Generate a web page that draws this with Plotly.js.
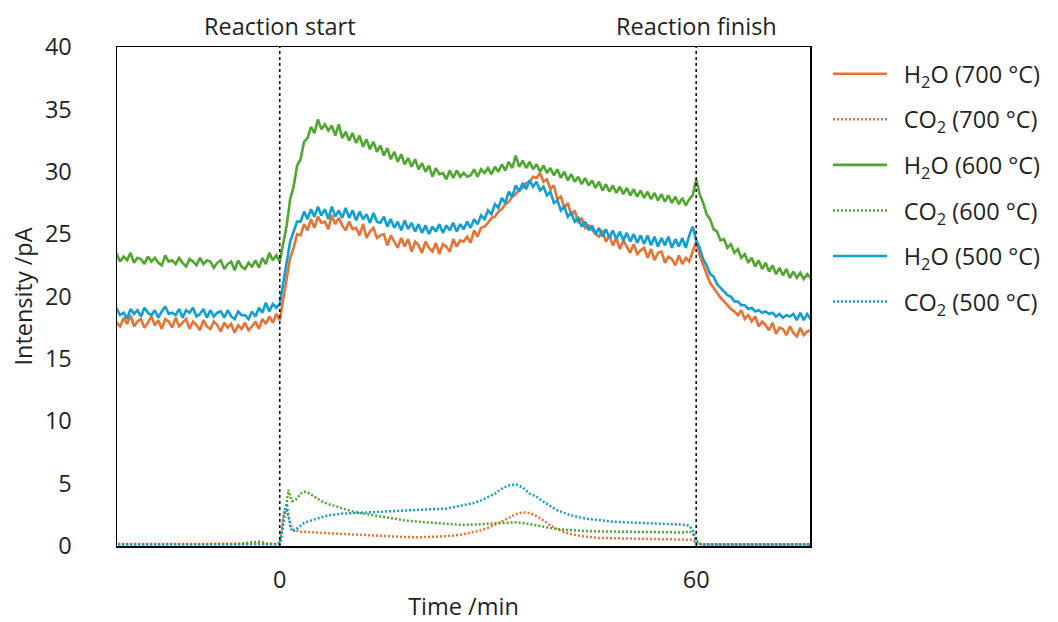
<!DOCTYPE html>
<html>
<head>
<meta charset="utf-8">
<script src="https://cdn.plot.ly/plotly-3.0.1.min.js"></script>
<style>
  html, body { margin: 0; padding: 0; background: #fff; }
  #chart { width: 1058px; height: 622px; }
</style>
</head>
<body>
<div id="chart"></div>
<script>
// H2O signals, sampled every 0.5 min starting at -25 min (one row = 5 min)
const H2O_START = -25;
const H2O_STEP = 0.5;

const h2o700 = [
  18.0,17.5,18.4,17.9,17.6,18.3,17.8,18.5,17.6,18.0,
  18.2,17.5,17.9,18.4,17.7,18.1,17.4,18.2,18.0,17.5,
  18.3,17.6,17.9,18.2,17.4,18.0,17.7,17.3,18.1,17.6,
  17.4,18.0,17.7,17.2,17.9,17.5,17.8,17.1,17.7,17.4,
  17.9,17.3,17.6,18.0,17.4,18.2,17.8,18.4,17.9,18.6,
  18.1,19.7,21.3,23.1,23.9,25.0,24.9,25.8,25.3,26.2,
  25.5,26.4,25.9,26.0,25.4,26.5,25.8,26.3,25.7,25.3,
  26.0,25.4,25.5,24.9,25.8,24.7,25.2,25.5,24.7,24.9,
  25.0,24.1,24.9,24.4,23.9,24.7,24.0,24.6,23.6,24.4,
  24.1,23.5,24.4,23.9,23.6,24.3,23.4,24.2,24.0,23.6,
  24.6,24.0,24.5,24.4,24.8,24.3,25.3,24.8,25.5,25.6,
  25.9,26.3,26.4,26.8,27.0,27.4,27.6,28.0,28.2,28.6,
  28.7,29.1,29.2,29.6,29.5,29.9,29.2,29.4,28.6,28.9,
  27.8,28.0,27.1,27.5,26.5,26.9,25.9,26.3,25.5,25.7,
  25.3,25.0,24.8,25.3,24.4,24.9,24.1,24.7,23.8,24.5,
  24.0,23.5,24.2,23.4,23.7,23.9,23.1,23.8,22.9,23.5,
  23.6,22.7,23.2,23.0,22.5,23.3,22.6,23.1,22.8,23.7,
  24.4,23.3,22.5,21.8,21.1,20.7,20.2,19.9,19.6,19.3,
  19.0,18.8,18.5,18.9,18.2,18.5,18.0,18.4,17.6,18.0,
  17.7,17.3,17.9,17.0,17.5,17.4,16.9,17.6,17.1,16.8,
  17.5,16.9,17.2,17.3,16.9
];

const h2o600 = [
  23.6,22.9,23.3,23.4,22.8,23.2,22.9,23.5,22.7,23.1,
  23.0,22.6,23.2,22.8,23.1,22.7,22.5,23.3,22.8,22.9,
  22.6,23.1,22.7,22.4,23.0,22.8,22.5,23.1,22.6,22.9,
  22.8,22.3,22.7,22.9,22.2,22.6,22.8,22.1,22.9,22.4,
  22.2,22.7,22.4,22.9,22.3,23.1,22.6,23.5,22.9,23.3,
  22.8,24.3,25.7,27.8,28.8,30.5,31.0,32.4,32.7,33.6,
  33.1,34.2,33.4,33.8,33.3,33.7,32.9,33.8,32.7,33.2,
  32.5,33.1,32.3,32.9,32.0,32.6,31.8,32.4,31.6,32.1,
  31.3,31.9,31.0,31.6,30.8,31.4,30.6,31.1,30.4,31.0,
  30.2,30.7,30.0,30.5,29.6,30.3,29.8,29.9,29.4,30.1,
  29.5,30.1,29.6,29.9,29.6,29.7,30.2,29.6,30.2,29.9,
  30.3,29.8,30.4,30.0,30.6,30.1,30.8,30.3,31.3,30.4,
  30.9,30.3,30.8,30.2,30.6,30.0,30.5,29.9,30.3,29.7,
  30.2,29.5,30.0,29.3,29.8,29.2,29.6,29.0,29.5,28.9,
  29.3,28.7,29.2,28.5,29.0,28.4,28.9,28.3,28.8,28.2,
  28.7,28.1,28.6,28.0,28.5,27.9,28.4,27.8,28.3,27.7,
  28.2,27.6,28.1,27.5,28.0,27.4,27.9,27.3,27.8,28.1,
  29.4,28.2,27.5,26.6,26.2,25.4,25.2,24.5,24.6,23.9,
  24.2,23.5,23.8,23.1,23.4,22.7,23.1,22.4,22.9,22.2,
  22.7,22.0,22.5,21.8,22.3,21.7,22.2,21.5,22.0,21.5,
  21.9,21.4,21.8,21.5,21.7
];

const h2o500 = [
  18.9,18.3,18.8,19.0,18.5,18.7,18.2,19.0,18.6,18.9,
  18.4,19.1,18.7,18.5,18.9,18.3,18.8,19.2,18.6,18.7,
  18.5,19.0,18.3,18.9,18.7,19.1,18.4,18.6,19.0,18.3,
  18.9,18.4,18.7,18.8,18.3,18.9,18.4,18.2,18.8,18.5,
  18.5,18.2,18.8,18.4,19.1,18.7,19.5,18.8,19.4,19.1,
  19.4,21.1,22.8,24.4,25.2,26.0,26.0,26.8,26.2,27.0,
  26.4,27.2,26.5,27.0,26.2,27.2,26.4,26.9,26.3,27.1,
  26.3,26.9,26.1,26.8,26.2,26.6,25.9,26.7,26.0,25.9,
  26.4,25.6,26.2,25.5,26.0,25.3,26.1,25.4,25.9,25.2,
  25.8,25.1,25.7,25.0,25.6,25.2,25.8,25.1,25.7,25.3,
  25.9,25.2,25.8,25.4,26.0,25.5,26.2,25.8,26.5,26.2,
  26.9,26.6,27.4,27.1,27.9,27.5,28.4,28.0,28.9,28.4,
  29.1,28.6,29.3,28.8,29.2,28.5,28.8,28.1,28.4,27.5,
  27.7,26.9,27.2,26.4,26.7,26.0,26.3,25.6,26.0,25.3,
  25.7,25.0,25.5,24.8,25.4,24.7,25.3,24.6,25.2,24.5,
  25.1,24.4,25.0,24.3,24.9,24.2,24.9,24.1,24.8,24.0,
  24.7,24.1,24.8,23.9,24.6,24.0,24.7,23.9,24.9,25.6,
  24.5,23.9,23.0,22.5,21.8,21.6,21.0,20.7,20.4,20.1,
  20.0,19.6,19.6,19.3,19.3,19.0,19.1,18.8,18.9,18.7,
  18.8,18.6,18.7,18.4,18.6,18.3,18.5,18.4,18.6,18.1,
  18.7,18.1,18.6,18.2,18.5
];

// CO2 signals on their own (uneven) time base, min
const co2Time = [
  -25,-20,-15,-10,-6,
  -4,-3.5,-3,-2.5,-2,
  -1,-0.5,0,0.25,0.5,
  0.75,1,1.25,1.5,1.75,
  2,2.5,3,3.5,4,
  4.5,5,6,7,8,
  9,10,11,12,14,
  16,18,20,22,24,
  26,28,29,30,31,
  32,33,34,35,36,
  37,38,39,40,41,
  42,44,46,48,50,
  52,54,56,58,58.5,
  59,59.5,60,60.5,61,
  65,70,75,77
];

const co2_700 = [
  0.15,0.15,0.12,0.15,0.15,
  0.15,0.15,0.18,0.2,0.18,
  0.15,0.15,0.3,1.1,2.3,
  2.9,2.8,2.3,1.8,1.45,
  1.3,1.2,1.15,1.15,1.1,
  1.1,1.08,1.05,1.0,1.0,
  0.98,0.95,0.9,0.88,0.85,
  0.78,0.72,0.7,0.72,0.78,
  0.9,1.1,1.25,1.45,1.7,
  1.95,2.25,2.55,2.7,2.65,
  2.4,2.05,1.65,1.35,1.1,
  0.95,0.75,0.65,0.6,0.6,
  0.58,0.57,0.55,0.55,0.55,
  0.55,0.5,0.25,0.15,0.12,
  0.12,0.12,0.12,0.12
];

const co2_600 = [
  0.15,0.15,0.15,0.15,0.15,
  0.3,0.35,0.35,0.3,0.2,
  0.15,0.15,0.2,1.0,1.8,
  2.5,3.4,4.5,4.1,3.6,
  3.6,3.8,4.2,4.35,4.3,
  4.15,3.95,3.6,3.35,3.2,
  3.0,2.85,2.7,2.6,2.4,
  2.2,2.05,1.95,1.85,1.75,
  1.7,1.72,1.75,1.78,1.82,
  1.85,1.88,1.9,1.85,1.75,
  1.62,1.5,1.42,1.35,1.3,
  1.25,1.2,1.17,1.15,1.12,
  1.1,1.1,1.08,1.07,1.08,
  1.2,1.0,0.45,0.2,0.15,
  0.15,0.15,0.15,0.15
];

const co2_500 = [
  0.12,0.12,0.12,0.12,0.12,
  0.12,0.15,0.15,0.15,0.12,
  0.12,0.12,0.15,0.75,2.0,
  2.9,3.4,2.4,1.6,1.2,
  1.2,1.4,1.65,1.85,1.95,
  2.05,2.1,2.3,2.45,2.55,
  2.6,2.62,2.65,2.7,2.75,
  2.8,2.85,2.9,2.95,3.0,
  3.2,3.45,3.65,3.9,4.2,
  4.6,4.85,4.95,4.7,4.2,
  3.95,3.55,3.2,2.85,2.65,
  2.45,2.2,2.05,1.95,1.9,
  1.85,1.8,1.75,1.75,1.7,
  1.6,1.3,0.3,0.15,0.12,
  0.12,0.12,0.12,0.12
];

// Reaction markers
const eventTimes = [0, 60];
const eventLabels = ['Reaction start', 'Reaction finish'];

// Axis ticks
const xTicks = [0, 60];
const xTickLabels = ['0', '60'];
const yTicks = [0, 5, 10, 15, 20, 25, 30, 35, 40];

const h2oTime = h2o700.map((_, i) => H2O_START + H2O_STEP * i);

const COLORS = { t700: '#E97132', t600: '#4EA72E', t500: '#0F9ED5' };
const FONT = 'Open Sans, Noto Sans, Arial, sans-serif';
const FS = 23.5;
const TXT = '#1f1f1f';
const DOTS = '2px,2px';
const PAD = '\u2002'; // small gap between legend sample and label

function h2oTrace(y, color, name, group) {
  return { x: h2oTime, y: y, type: 'scatter', mode: 'lines', name: PAD + name,
           legendgroup: group, line: { color: color, width: 2.6 } };
}
function co2Trace(y, color, name, group) {
  return { x: co2Time, y: y, type: 'scatter', mode: 'lines', name: PAD + name,
           legendgroup: group, line: { color: color, width: 2.5, dash: DOTS } };
}

const data = [
  h2oTrace(h2o700, COLORS.t700, 'H<sub>2</sub>O (700 °C)', 'a'),
  co2Trace(co2_700, COLORS.t700, 'CO<sub>2</sub> (700 °C)', 'b'),
  h2oTrace(h2o600, COLORS.t600, 'H<sub>2</sub>O (600 °C)', 'c'),
  co2Trace(co2_600, COLORS.t600, 'CO<sub>2</sub> (600 °C)', 'd'),
  h2oTrace(h2o500, COLORS.t500, 'H<sub>2</sub>O (500 °C)', 'e'),
  co2Trace(co2_500, COLORS.t500, 'CO<sub>2</sub> (500 °C)', 'f')
];

const layout = {
  width: 1058,
  height: 622,
  margin: { l: 117, r: 246, t: 47, b: 76 },
  paper_bgcolor: '#ffffff',
  plot_bgcolor: '#ffffff',
  font: { family: FONT, size: FS, color: TXT },
  showlegend: true,
  legend: {
    x: 1.026, y: 0.99, xanchor: 'left', yanchor: 'top',
    font: { family: FONT, size: FS, color: TXT },
    itemwidth: 54,
    tracegroupgap: 12,
    bgcolor: 'rgba(0,0,0,0)'
  },
  xaxis: {
    range: [-23.45, 76.4],
    tickmode: 'array', tickvals: xTicks, ticktext: xTickLabels,
    ticks: '', showgrid: false, zeroline: false,
    showline: true, mirror: true, linecolor: '#000', linewidth: 1.5,
    tickfont: { size: FS, color: TXT },
    ticklabelstandoff: 12,
    title: { text: 'Time /min', font: { size: FS, color: TXT }, standoff: 6 }
  },
  yaxis: {
    range: [0, 40],
    tickmode: 'array', tickvals: yTicks,
    ticks: '', showgrid: false, zeroline: false,
    showline: true, mirror: true, linecolor: '#000', linewidth: 1.5,
    tickfont: { size: FS, color: TXT },
    ticklabelstandoff: 39,
    title: { text: 'Intensity /pA', font: { size: FS, color: TXT }, standoff: 5 }
  },
  shapes: eventTimes.map(t => ({
    type: 'line', xref: 'x', yref: 'paper', x0: t, x1: t, y0: 0, y1: 1,
    line: { color: '#000', width: 1.5, dash: 'dot' }, layer: 'above'
  })),
  annotations: eventTimes.map((t, i) => ({
    x: t, y: 1, xref: 'x', yref: 'paper', xanchor: 'center', yanchor: 'bottom',
    yshift: 3, showarrow: false, text: eventLabels[i],
    font: { family: FONT, size: FS, color: TXT }
  }))
};

Plotly.newPlot('chart', data, layout, { displayModeBar: false, staticPlot: true });
</script>
</body>
</html>
